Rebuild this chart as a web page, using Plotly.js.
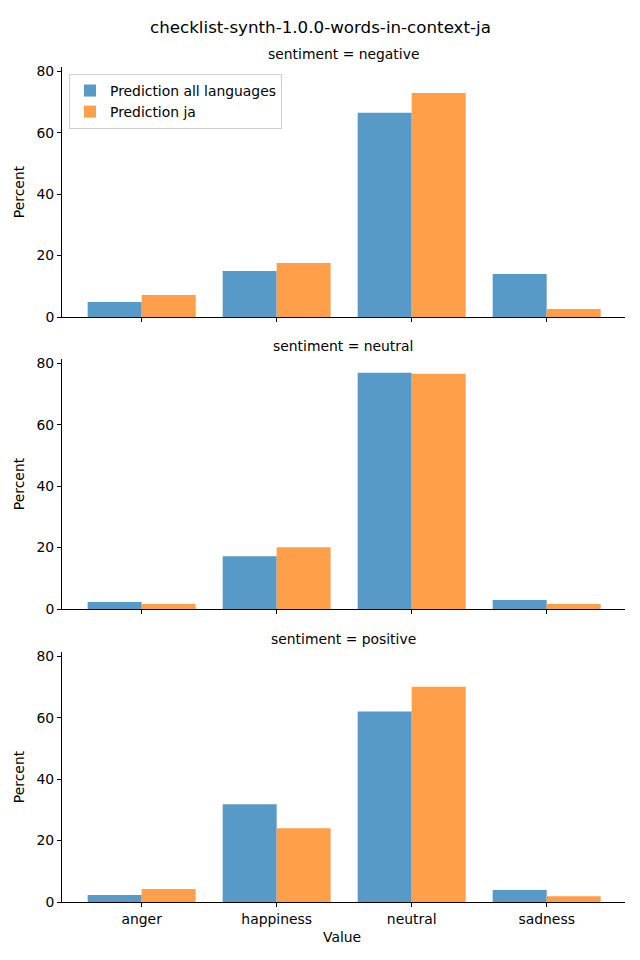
<!DOCTYPE html>
<html>
<head>
<meta charset="utf-8">
<script src="https://cdn.plot.ly/plotly-3.0.1.min.js"></script>
<style>html,body{margin:0;padding:0;background:#fff;}#chart{width:640px;height:960px;}</style>
</head>
<body>
<div id="chart"></div>
<script>
const categories = ["anger", "happiness", "neutral", "sadness"];
const panels = ["sentiment = negative", "sentiment = neutral", "sentiment = positive"];
const seriesNames = ["Prediction all languages", "Prediction ja"];
// negative
const negAll = [4.9, 15.0, 66.5, 14.0];
const negJa  = [7.2, 17.6, 72.9, 2.6];
// neutral
const neuAll = [2.3, 17.2, 76.9, 2.9];
const neuJa  = [1.6, 20.1, 76.6, 1.6];
// positive
const posAll = [2.3, 31.8, 62.0, 3.9];
const posJa  = [4.2, 24.0, 70.1, 1.9];
const yTicks = [0, 20, 40, 60, 80];

const colors = ["#5799c7", "#ff9f4a"];
const font = "DejaVu Sans, sans-serif";
const FS = 13.9;
const W = 640, H = 960;
const L = 62, R = 625;
const panelPx = [[67, 317], [359, 609], [652, 902]];
const dataSets = [[negAll, negJa], [neuAll, neuJa], [posAll, posJa]];

const traces = [];
dataSets.forEach((pair, i) => {
  pair.forEach((vals, j) => {
    traces.push({
      type: "bar",
      x: categories,
      y: vals,
      name: seriesNames[j],
      marker: {color: colors[j], line: {width: 0}},
      xaxis: i === 0 ? "x" : "x" + (i + 1),
      yaxis: i === 0 ? "y" : "y" + (i + 1),
      showlegend: i === 0,
      legendgroup: seriesNames[j],
      hoverinfo: "skip"
    });
  });
});

const layout = {
  width: W, height: H,
  margin: {l: L, r: W - R, t: 0, b: 0},
  paper_bgcolor: "#fff", plot_bgcolor: "#fff",
  font: {family: font, size: FS, color: "#000"},
  barmode: "group", bargap: 0.2, bargroupgap: 0,
  showlegend: true,
  legend: {
    x: (69 - L) / (R - L), y: 1 - 74 / H, xanchor: "left", yanchor: "top",
    xref: "paper", yref: "paper",
    bordercolor: "#d0d0d0", borderwidth: 1, bgcolor: "rgba(255,255,255,0.8)",
    font: {family: font, size: FS, color: "#000"},
    tracegroupgap: 0
  },
  annotations: [
    {text: "checklist-synth-1.0.0-words-in-context-ja", xref: "paper", yref: "paper",
     x: (320 - L) / (R - L), y: 1 - 27 / H, xanchor: "center", yanchor: "middle",
     showarrow: false, font: {family: font, size: 16.7, color: "#000"}},
    {text: "Value", xref: "paper", yref: "paper",
     x: (342 - L) / (R - L), y: 1 - 937 / H, xanchor: "center", yanchor: "middle",
     showarrow: false, font: {family: font, size: FS, color: "#000"}}
  ]
};

panels.forEach((p, i) => {
  const [top, bot] = panelPx[i];
  const xa = i === 0 ? "xaxis" : "xaxis" + (i + 1);
  const ya = i === 0 ? "yaxis" : "yaxis" + (i + 1);
  const yid = i === 0 ? "y" : "y" + (i + 1);
  const xid = i === 0 ? "x" : "x" + (i + 1);
  layout[xa] = {
    domain: [0, 1], anchor: yid,
    type: "category", categoryarray: categories, categoryorder: "array",
    range: [-0.59, 3.58],
    showline: true, linecolor: "#000", linewidth: 1,
    ticks: "outside", ticklen: 4, tickwidth: 1, tickcolor: "#000",
    showticklabels: i === 2, showgrid: false, zeroline: false,
    tickfont: {family: font, size: FS, color: "#000"}, fixedrange: true
  };
  layout[ya] = {
    domain: [1 - bot / H, 1 - top / H], anchor: xid,
    range: [0, 81.4], tickvals: yTicks, ticktext: yTicks.map(String),
    showline: true, linecolor: "#000", linewidth: 1,
    ticks: "outside", ticklen: 4, tickwidth: 1, tickcolor: "#000",
    showgrid: false, zeroline: false,
    tickfont: {family: font, size: FS, color: "#000"},
    title: {text: "Percent", font: {family: font, size: FS, color: "#000"}, standoff: 8},
    fixedrange: true
  };
  layout.annotations.push({
    text: p, xref: "paper", yref: "paper",
    x: (343 - L) / (R - L), y: 1 - (top - 13) / H, xanchor: "center", yanchor: "middle",
    showarrow: false, font: {family: font, size: FS, color: "#000"}
  });
});

Plotly.newPlot("chart", traces, layout, {staticPlot: true, displayModeBar: false});
</script>
</body>
</html>
